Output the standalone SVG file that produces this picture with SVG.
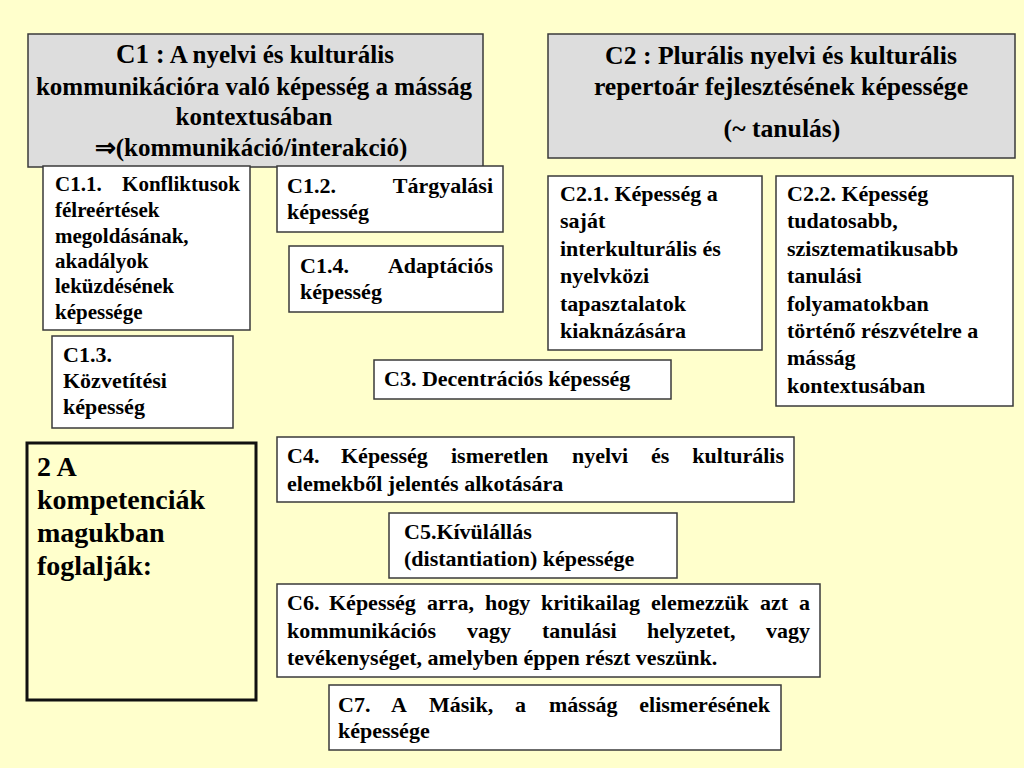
<svg xmlns="http://www.w3.org/2000/svg" width="1024" height="768" viewBox="0 0 1024 768">
<style>
text{font-weight:bold;fill:#000}
.box{fill:#fff;stroke:#3a3a3a;stroke-width:1.5}
.hdr{fill:#dddddd;stroke:#3a3a3a;stroke-width:1.5}
.h{font-size:25px;text-anchor:middle}
.h2{font-size:25.7px;text-anchor:middle}
.s21{font-size:21px}
.s22{font-size:22px}
.e{text-anchor:end}
</style>
<rect width="1024" height="768" fill="#ffffcc"/>
<g font-family="'Liberation Serif', serif">
<g id="C1">
<rect class="hdr" x="28" y="34" width="455" height="133"/>
<text class="h" x="255" y="63"><tspan font-size="27px">C1 :</tspan> A nyelvi és kulturális</text>
<text class="h" x="254" y="95">kommunikációra való képesség a másság</text>
<text class="h" x="254" y="125">kontextusában</text>
<text class="h" x="251" y="156">⇒(kommunikáció/interakció)</text>
</g>
<g id="C2">
<rect class="hdr" x="548" y="34" width="467" height="124"/>
<text class="h2" x="781" y="64">C2 : Plurális nyelvi és kulturális</text>
<text class="h2" x="781" y="95">repertoár fejlesztésének képessége</text>
<text class="h2" x="782" y="137">(~ tanulás)</text>
</g>
<g id="C1_1">
<rect class="box" x="43" y="166" width="207" height="164"/>
<text class="s21" x="55" y="191">C1.1.</text><text class="s21 e" x="240" y="191">Konfliktusok</text>
<text class="s21" x="55" y="217">félreértések</text>
<text class="s21" x="55" y="243">megoldásának,</text>
<text class="s21" x="55" y="268">akadályok</text>
<text class="s21" x="55" y="293">leküzdésének</text>
<text class="s21" x="55" y="319">képessége</text>
</g>
<g id="C1_2">
<rect class="box" x="277" y="166" width="226" height="66"/>
<text class="s22" x="287" y="193">C1.2.</text><text class="s22 e" x="493" y="193">Tárgyalási</text>
<text class="s22" x="287" y="219">képesség</text>
</g>
<g id="C1_4">
<rect class="box" x="289" y="246" width="214" height="66"/>
<text class="s22" x="300" y="273">C1.4.</text><text class="s22 e" x="493" y="273">Adaptációs</text>
<text class="s22" x="300" y="299">képesség</text>
</g>
<g id="C1_3">
<rect class="box" x="52" y="336" width="181" height="92"/>
<text class="s22" x="63" y="362">C1.3.</text>
<text class="s22" x="63" y="388">Közvetítési</text>
<text class="s22" x="63" y="414">képesség</text>
</g>
<g id="C3">
<rect class="box" x="374" y="360" width="297" height="39"/>
<text class="s22" x="384" y="386">C3. Decentrációs képesség</text>
</g>
<g id="C2_1">
<rect class="box" x="548" y="176" width="214" height="174"/>
<text class="s22" x="560" y="201">C2.1. Képesség a</text>
<text class="s22" x="560" y="228">saját</text>
<text class="s22" x="560" y="256">interkulturális és</text>
<text class="s22" x="560" y="283">nyelvközi</text>
<text class="s22" x="560" y="311">tapasztalatok</text>
<text class="s22" x="560" y="338">kiaknázására</text>
</g>
<g id="C2_2">
<rect class="box" x="776" y="176" width="237" height="230"/>
<text class="s22" x="787" y="201">C2.2. Képesség</text>
<text class="s22" x="787" y="228">tudatosabb,</text>
<text class="s22" x="787" y="256">szisztematikusabb</text>
<text class="s22" x="787" y="283">tanulási</text>
<text class="s22" x="787" y="311">folyamatokban</text>
<text class="s22" x="787" y="338">történő részvételre a</text>
<text class="s22" x="787" y="365">másság</text>
<text class="s22" x="787" y="393">kontextusában</text>
</g>
<g id="A2">
<rect x="27" y="443" width="229" height="257" fill="none" stroke="#111" stroke-width="3"/>
<text font-size="28" x="37" y="476">2 A</text>
<text font-size="28" x="37" y="509">kompetenciák</text>
<text font-size="28" x="37" y="542">magukban</text>
<text font-size="28" x="37" y="575">foglalják:</text>
</g>
<g id="C4">
<rect class="box" x="277" y="437" width="517" height="65"/>
<text class="s22" y="463"><tspan x="287">C4.</tspan><tspan x="341">Képesség</tspan><tspan x="451">ismeretlen</tspan><tspan x="572">nyelvi</tspan><tspan x="651">és</tspan></text>
<text class="s22 e" x="784" y="463">kulturális</text>
<text class="s22" x="287" y="491">elemekből jelentés alkotására</text>
</g>
<g id="C5">
<rect class="box" x="389" y="513" width="288" height="65"/>
<text class="s22" x="404" y="539">C5.Kívülállás</text>
<text class="s22" x="404" y="566">(distantiation) képessége</text>
</g>
<g id="C6">
<rect class="box" x="277" y="584" width="543" height="93"/>
<text class="s22" y="610"><tspan x="287">C6.</tspan><tspan x="329">Képesség</tspan><tspan x="427">arra,</tspan><tspan x="485">hogy</tspan><tspan x="541">kritikailag</tspan><tspan x="651">elemezzük</tspan><tspan x="760">azt</tspan></text>
<text class="s22 e" x="810" y="610">a</text>
<text class="s22" y="638"><tspan x="287">kommunikációs</tspan><tspan x="467">vagy</tspan><tspan x="542">tanulási</tspan><tspan x="647">helyzetet,</tspan></text>
<text class="s22 e" x="810" y="638">vagy</text>
<text class="s22" x="287" y="665">tevékenységet, amelyben éppen részt veszünk.</text>
</g>
<g id="C7">
<rect class="box" x="329" y="685" width="452" height="65"/>
<text class="s22" y="712"><tspan x="338">C7.</tspan><tspan x="391">A</tspan><tspan x="429">Másik,</tspan><tspan x="515">a</tspan><tspan x="549">másság</tspan></text>
<text class="s22 e" x="770" y="712">elismerésének</text>
<text class="s22" x="338" y="738">képessége</text>
</g>
</g>
<g id="connectors"/>
</svg>
